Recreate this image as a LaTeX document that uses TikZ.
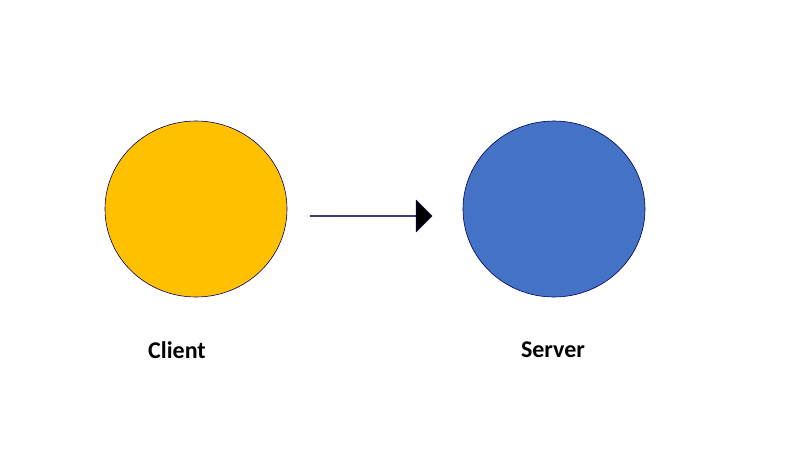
\documentclass[tikz,border=0pt]{standalone}
\usepackage{fontspec}
\setmainfont{Carlito}
\usetikzlibrary{shapes.geometric,shapes.arrows}
\begin{document}
\begin{tikzpicture}[x=1pt,y=-1pt,
  party/.style = {draw=blue!40!black,ellipse,minimum width=182pt,minimum height=176pt,inner sep=0pt,line width=0.6pt},
  label/.style = {font=\bfseries\fontsize{24}{28}\selectfont}]
  \useasboundingbox (0,0) rectangle (785,458);
  \node[party,fill={rgb,255:red,255;green,192;blue,0}] (client) at (196,209) {};
  \node[party,fill={rgb,255:red,68;green,114;blue,196}] (server) at (554,209) {};
  \node[single arrow,draw=blue!40!black,fill=black,minimum height=122pt,minimum width=32pt,
    single arrow head extend=8pt,inner sep=0pt,text width=0pt] (request) at (371,216) {};
  \node[label] (clientlabel) at (177,350) {Client};
  \node[label] (serverlabel) at (553,350) {Server};
\end{tikzpicture}
\end{document}
